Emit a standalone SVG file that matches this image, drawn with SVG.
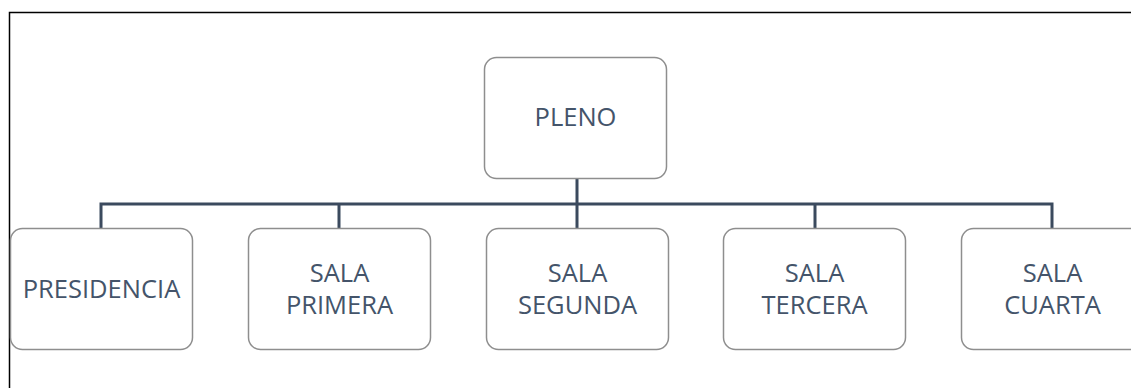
<svg xmlns="http://www.w3.org/2000/svg" width="1131" height="388" viewBox="0 0 1131 388">
<style>
.box{fill:#fff;stroke:#8e8e8e;stroke-width:1.5}
.t{font-family:"Open Sans","Liberation Sans",sans-serif;font-size:25.5px;fill:#44546a;text-anchor:middle}
.c{stroke:#3b4a5e;stroke-width:3;fill:none}
</style>
<rect width="1131" height="388" fill="#fff"/>
<g id="frame"><path d="M9.5 388V12.5H1131" fill="none" stroke="#000" stroke-width="1.5"/></g>
<g id="connectors">
<path class="c" d="M577 179V204M101 228V204H1052V228M339 204V228M577 204V228M815 204V228"/>
</g>
<g id="pleno"><rect class="box" x="484.5" y="57.5" width="182" height="121" rx="12"/><text class="t" x="575.5" y="126">PLENO</text></g>
<g id="presidencia"><rect class="box" x="10.5" y="228.5" width="182" height="121" rx="12"/><text class="t" x="101.5" y="298">PRESIDENCIA</text></g>
<g id="sala-primera"><rect class="box" x="248.5" y="228.5" width="182" height="121" rx="12"/><text class="t" x="339.5" y="282">SALA</text><text class="t" x="339.5" y="314">PRIMERA</text></g>
<g id="sala-segunda"><rect class="box" x="486.5" y="228.5" width="182" height="121" rx="12"/><text class="t" x="577.5" y="282">SALA</text><text class="t" x="577.5" y="314">SEGUNDA</text></g>
<g id="sala-tercera"><rect class="box" x="723.5" y="228.5" width="182" height="121" rx="12"/><text class="t" x="814.5" y="282">SALA</text><text class="t" x="814.5" y="314">TERCERA</text></g>
<g id="sala-cuarta"><rect class="box" x="961.5" y="228.5" width="182" height="121" rx="12"/><text class="t" x="1052.5" y="282">SALA</text><text class="t" x="1052.5" y="314">CUARTA</text></g>
</svg>
